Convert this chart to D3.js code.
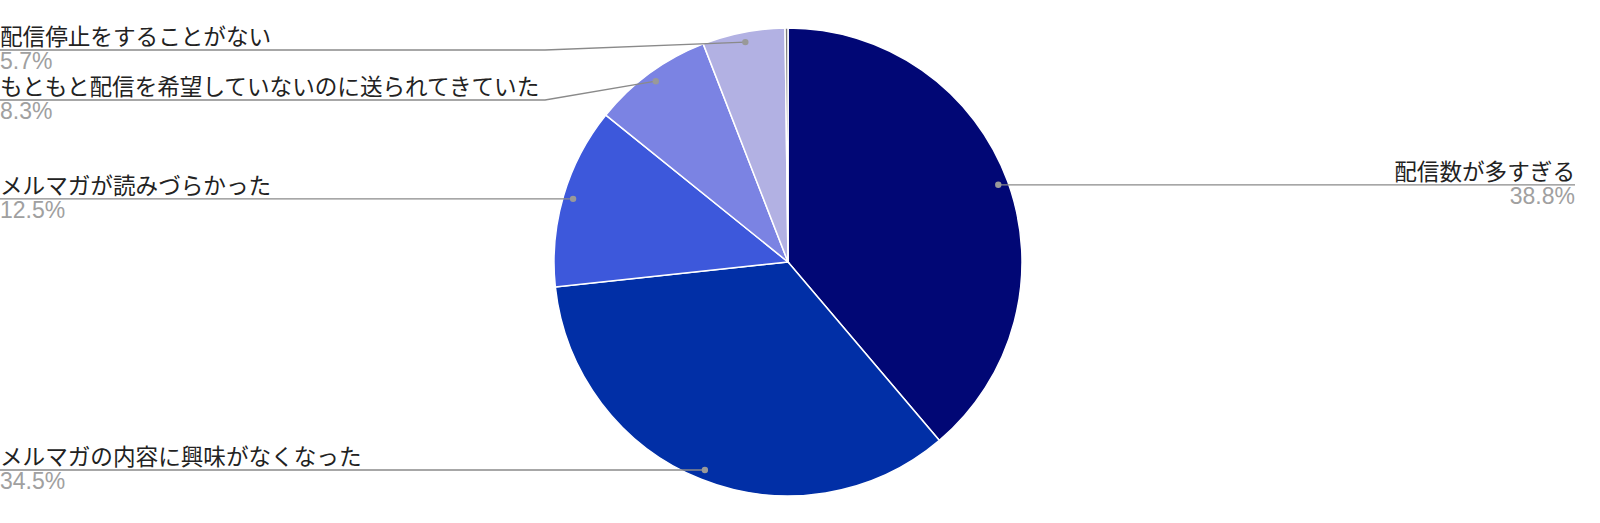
<!DOCTYPE html>
<html><head><meta charset="utf-8">
<script src="https://cdn.jsdelivr.net/npm/d3@7"></script>
<style>
html,body{margin:0;padding:0;background:#fff;}
svg text{font-family:"Noto Sans CJK JP","Noto Sans",sans-serif;}
svg text.pct{font-family:"Liberation Sans","Noto Sans CJK JP",sans-serif;}
</style></head>
<body><svg id="c" width="1600" height="523"></svg>
<script>
const categories = ["配信数が多すぎる","メルマガの内容に興味がなくなった","メルマガが読みづらかった","もともと配信を希望していないのに送られてきていた","配信停止をすることがない","その他"];
const values = [38.8, 34.5, 12.5, 8.3, 5.7, 0.2];
const valueLabels = ["38.8%","34.5%","12.5%","8.3%","5.7%",""];
const colors = ["#010775","#012fa6","#3d58db","#7b83e3","#b2b1e3","#7a7a7a"];

const W = 1600, H = 523;
const cx = 788, cy = 262, R = 234;
const svg = d3.select("#c");
const g = svg.append("g").attr("transform", `translate(${cx},${cy})`);
const pie = d3.pie().sort(null).value(d => d.v);
const data = pie(values.map((v,i)=>({v, i})));
const arc = d3.arc().innerRadius(0).outerRadius(R);
g.selectAll("path").data(data).join("path")
  .attr("d", arc).attr("fill", d => colors[d.data.i])
  .attr("stroke", "#fff").attr("stroke-width", 1.5);

// labels
const labs = data.filter(d => valueLabels[d.data.i] !== "").map(d => {
  const mid = (d.startAngle + d.endAngle) / 2;
  const [x, y] = [Math.sin(mid)*224, -Math.cos(mid)*224];
  return {d, i: d.data.i, dx: cx + x, dy: cy + y, right: Math.sin(mid) > 0};
});
function layout(list){
  list.sort((a,b)=>a.dy-b.dy);
  let prev = -Infinity;
  list.forEach(l => { l.ly = Math.max(l.dy, 50, prev + 50); prev = l.ly; });
}
layout(labs.filter(l=>l.right));
layout(labs.filter(l=>!l.right));

const lg = svg.append("g");
labs.forEach(l => {
  const xEdge = l.right ? 1575 : 0;
  const bend = l.right ? cx + 243 : cx - 243;
  lg.append("path")
    .attr("d", `M${xEdge},${l.ly}L${bend},${l.ly}L${l.dx},${l.dy}`)
    .attr("fill","none").attr("stroke","#8a8a8a").attr("stroke-width",1.3);
  lg.append("circle").attr("cx", l.dx).attr("cy", l.dy).attr("r", 3.2).attr("fill","#999");
  const anchor = l.right ? "end" : "start";
  const tx = l.right ? 1575 : 0;
  lg.append("text").attr("x", tx).attr("y", l.ly - 5).attr("text-anchor", anchor)
    .attr("font-size", 22.6).attr("fill", "#222").text(categories[l.i]);
  lg.append("text").attr("class","pct").attr("x", tx).attr("y", l.ly + 19).attr("text-anchor", anchor)
    .attr("font-size", 23).attr("fill", "#a0a0a0").text(valueLabels[l.i]);
});
</script></body></html>
